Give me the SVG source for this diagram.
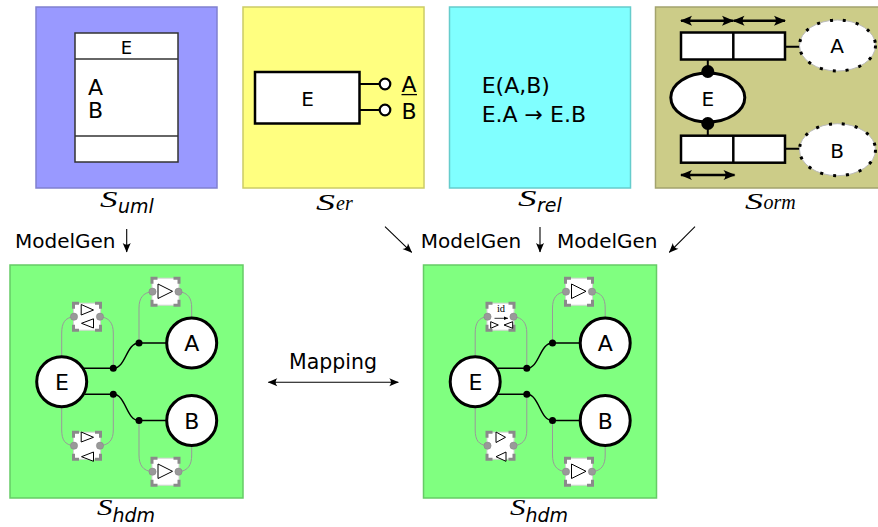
<svg xmlns="http://www.w3.org/2000/svg" width="878" height="527" viewBox="0 0 878 527">
<style>
.sans{font-family:"DejaVu Sans","Liberation Sans",sans-serif;fill:#000}
.ser{font-family:"Liberation Serif","DejaVu Serif",serif;font-style:italic;fill:#000}
.sub{font-family:"DejaVu Sans","Liberation Sans",sans-serif;font-style:italic;fill:#000}
.hc{fill:#fff;stroke:#000;stroke-width:3}
.gl{fill:none;stroke:#999;stroke-width:1}
.bl{fill:none;stroke:#000;stroke-width:1.5}
.tri{fill:#fff;stroke:#000;stroke-width:1}
.conn{fill:none;stroke:#000;stroke-width:1.1}
.thick{fill:none;stroke:#000;stroke-width:2}
.arr{fill:none;stroke:#000;stroke-width:2.4}
.wbox{fill:#fff;stroke:#000;stroke-width:2.5}
</style>
<defs>
<marker id="ah" viewBox="-10 -5 11 10" refX="0" refY="0" markerWidth="11" markerHeight="10" orient="auto-start-reverse" markerUnits="userSpaceOnUse">
<path d="M0.5,0 L-9,-4 Q-5.5,0 -9,4 Z" fill="#000"/>
</marker>
<marker id="ahb" viewBox="-12 -6 13 12" refX="0" refY="0" markerWidth="13" markerHeight="12" orient="auto-start-reverse" markerUnits="userSpaceOnUse">
<path d="M1,0 L-11,-5 Q-7,0 -11,5 Z" fill="#000"/>
</marker>
<marker id="ahs" viewBox="-5 -3 6 6" refX="0" refY="0" markerWidth="6" markerHeight="6" orient="auto" markerUnits="userSpaceOnUse">
<path d="M0,0 L-4,-1.8 L-4,1.8 Z" fill="#000"/>
</marker>
<g id="frame">
<rect x="-13.5" y="-13.5" width="27" height="27" fill="#fff" stroke="#d4d4d4" stroke-width="1"/>
<path d="M-13.5,-8 V-13.5 H-8 M8,-13.5 H13.5 V-8 M13.5,8 V13.5 H8 M-8,13.5 H-13.5 V8" fill="none" stroke="#8a8a8a" stroke-width="3"/>
<circle cx="-13" cy="0" r="3.6" fill="#999" stroke="#888" stroke-width="0.6"/>
<circle cx="13" cy="0" r="3.6" fill="#999" stroke="#888" stroke-width="0.6"/>
</g>
</defs>

<!-- top row schemas -->
<g id="uml">
<rect x="36" y="7" width="181" height="181" fill="#9999ff" stroke="#8080d0" stroke-width="1.5"/>
<rect x="75" y="33" width="103" height="129" fill="#fff" stroke="#333" stroke-width="1.5"/>
<line x1="75" y1="59" x2="178" y2="59" stroke="#333" stroke-width="1.5"/>
<line x1="75" y1="136" x2="178" y2="136" stroke="#333" stroke-width="1.5"/>
<text class="sans" x="126.5" y="54" text-anchor="middle" font-size="18">E</text>
<text class="sans" x="88" y="95" font-size="22">A</text>
<text class="sans" x="88" y="118.3" font-size="22">B</text>
</g>
<g id="er">
<rect x="243" y="7" width="181" height="181" fill="#ffff80" stroke="#cccc66" stroke-width="1.5"/>
<rect class="wbox" x="255" y="72" width="104.5" height="51.5"/>
<text class="sans" x="307.5" y="106" text-anchor="middle" font-size="20">E</text>
<path class="thick" d="M359.5,84 H379.5 M359.5,110 H379.5"/>
<circle cx="385" cy="84" r="5.3" fill="#fff" stroke="#000" stroke-width="2.2"/>
<circle cx="385" cy="110" r="5.3" fill="#fff" stroke="#000" stroke-width="2.2"/>
<text class="sans" x="401.5" y="91.7" font-size="22">A</text>
<line x1="401.5" y1="94.6" x2="417" y2="94.6" stroke="#000" stroke-width="1.3"/>
<text class="sans" x="401.5" y="119.3" font-size="22">B</text>
</g>
<g id="rel">
<rect x="449.5" y="7" width="181" height="181" fill="#80ffff" stroke="#66cccc" stroke-width="1.5"/>
<text class="sans" x="481.7" y="92.7" font-size="22">E(A,B)</text>
<text class="sans" x="481.7" y="121.7" font-size="22">E.A → E.B</text>
</g>
<g id="orm">
<rect x="655.5" y="7" width="230" height="181" fill="#cccc88" stroke="#a3a36d" stroke-width="1.5"/>
<line class="arr" x1="681" y1="20.7" x2="733" y2="20.7" marker-start="url(#ahb)" marker-end="url(#ahb)"/>
<line class="arr" x1="733.5" y1="20.7" x2="785" y2="20.7" marker-start="url(#ahb)" marker-end="url(#ahb)"/>
<line class="arr" x1="681" y1="175" x2="734.5" y2="175" marker-start="url(#ahb)" marker-end="url(#ahb)"/>
<rect class="wbox" x="681" y="32.5" width="104" height="27"/>
<line x1="733.3" y1="32.5" x2="733.3" y2="59.5" stroke="#000" stroke-width="2.5"/>
<rect class="wbox" x="681" y="135.7" width="104" height="27"/>
<line x1="733.3" y1="135.7" x2="733.3" y2="162.7" stroke="#000" stroke-width="2.5"/>
<path class="thick" d="M707.8,59.5 V72 M707.8,123 V135.7 M785,46.7 H800 M785,148.8 H800"/>
<ellipse cx="707.8" cy="97.5" rx="37" ry="24.5" fill="#fff" stroke="#000" stroke-width="3"/>
<circle cx="707.8" cy="71.5" r="6.5" fill="#000"/>
<circle cx="707.8" cy="123.5" r="6.5" fill="#000"/>
<text class="sans" x="707.8" y="106" text-anchor="middle" font-size="20">E</text>
<ellipse cx="837.5" cy="45.5" rx="38" ry="25.5" fill="#fff" stroke="#bbb" stroke-width="1"/>
<ellipse cx="837.5" cy="45.5" rx="38" ry="25.5" fill="none" stroke="#000" stroke-width="3" stroke-dasharray="3 10"/>
<text class="sans" x="837" y="53.3" text-anchor="middle" font-size="20">A</text>
<ellipse cx="837.5" cy="149.7" rx="38" ry="26" fill="#fff" stroke="#bbb" stroke-width="1"/>
<ellipse cx="837.5" cy="149.7" rx="38" ry="26" fill="none" stroke="#000" stroke-width="3" stroke-dasharray="3 10"/>
<text class="sans" x="837" y="158.3" text-anchor="middle" font-size="20">B</text>
</g>

<!-- schema labels -->
<g id="labels">
<text class="ser" x="100" y="206.5" font-size="23" textLength="17.5" lengthAdjust="spacingAndGlyphs">S</text><text class="sub" x="118" y="213" font-size="19">uml</text>
<text class="ser" x="316" y="209.5" font-size="23" textLength="19" lengthAdjust="spacingAndGlyphs">S</text><text class="ser" x="336" y="209.5" font-size="20">er</text>
<text class="ser" x="518" y="206" font-size="23" textLength="18.5" lengthAdjust="spacingAndGlyphs">S</text><text class="sub" x="537" y="212" font-size="19">rel</text>
<text class="ser" x="745" y="209" font-size="23" textLength="18" lengthAdjust="spacingAndGlyphs">S</text><text class="ser" x="763.5" y="209" font-size="20">orm</text>
<text class="ser" x="97" y="515" font-size="23" textLength="15.5" lengthAdjust="spacingAndGlyphs">S</text><text class="sub" x="112.5" y="521.5" font-size="19">hdm</text>
<text class="ser" x="510" y="515" font-size="23" textLength="15.5" lengthAdjust="spacingAndGlyphs">S</text><text class="sub" x="525.5" y="521.5" font-size="19">hdm</text>
</g>

<!-- HDM panels -->
<g id="hdm1">
<rect x="10" y="265" width="233" height="233" fill="#80ff80" stroke="#66cc66" stroke-width="1.5"/>
<g id="hdm1-links">
<path class="gl" d="M74,316.7 C65,317.5 61.7,323 61.7,333 V357 M100,316.7 C109,317.5 113.3,323 113.3,333 V368.3"/>
<path class="gl" d="M61.7,406.7 V430 C61.7,440 65,445 74,445.7 M113.3,394.3 V430 C113.3,440 109,445 100,445.7"/>
<path class="gl" d="M152.5,291.7 C143,292.5 139,298 139,308 V343 M178.5,291.7 C188,292.5 191.7,298 191.7,308 V318"/>
<path class="gl" d="M139,420.5 V455 C139,465 143,471 152.5,471.7 M191.7,445.5 V455 C191.7,465 188,471 178.5,471.7"/>
<path class="bl" d="M84,368.3 H113.3 C126,368.3 126,343 139,343 H167"/>
<path class="bl" d="M84.4,394.3 H113.3 C126,394.3 126,420.5 139,420.5 H167"/>
<circle cx="113.3" cy="368.3" r="3.5"/><circle cx="113.3" cy="394.3" r="3.5"/>
<circle cx="139" cy="343" r="3.5"/><circle cx="139" cy="420.5" r="3.5"/>
</g>
<g id="hdm1-c1"><use href="#frame" x="87" y="316.7"/>
<path class="tri" d="M81.2,304.5 L93.5,310 L81.2,315 Z M81.5,323.3 L93.5,318.8 L93.5,328 Z"/></g>
<g id="hdm1-c2"><use href="#frame" x="87" y="445.7"/>
<path class="tri" d="M81.2,432 L93.5,437.3 L81.2,442 Z M81.5,456.7 L93.5,452 L93.5,461.3 Z"/></g>
<g id="hdm1-c3"><use href="#frame" x="165.5" y="291.7"/>
<path class="tri" d="M158,284 L172.5,291.3 L158,298.5 Z"/></g>
<g id="hdm1-c4"><use href="#frame" x="165.5" y="471.7"/>
<path class="tri" d="M158,464 L172.5,471.3 L158,478.5 Z"/></g>
<g id="hdm1-E"><circle class="hc" cx="61.7" cy="381.7" r="25"/><text class="sans" x="62" y="390" text-anchor="middle" font-size="22">E</text></g>
<g id="hdm1-A"><circle class="hc" cx="191.7" cy="343" r="25"/><text class="sans" x="191.7" y="351.3" text-anchor="middle" font-size="22">A</text></g>
<g id="hdm1-B"><circle class="hc" cx="191.7" cy="420.5" r="25"/><text class="sans" x="191.7" y="428.5" text-anchor="middle" font-size="22">B</text></g>
</g>

<g id="hdm2">
<rect x="423.5" y="265" width="233" height="233" fill="#80ff80" stroke="#66cc66" stroke-width="1.5"/>
<g transform="translate(413.5,0)">
<g id="hdm2-links">
<path class="gl" d="M74,316.7 C65,317.5 61.7,323 61.7,333 V357 M100,316.7 C109,317.5 113.3,323 113.3,333 V368.3"/>
<path class="gl" d="M61.7,406.7 V430 C61.7,440 65,445 74,445.7 M113.3,394.3 V430 C113.3,440 109,445 100,445.7"/>
<path class="gl" d="M152.5,291.7 C143,292.5 139,298 139,308 V343 M178.5,291.7 C188,292.5 191.7,298 191.7,308 V318"/>
<path class="gl" d="M139,420.5 V455 C139,465 143,471 152.5,471.7 M191.7,445.5 V455 C191.7,465 188,471 178.5,471.7"/>
<path class="bl" d="M84,368.3 H113.3 C126,368.3 126,343 139,343 H167"/>
<path class="bl" d="M84.4,394.3 H113.3 C126,394.3 126,420.5 139,420.5 H167"/>
<circle cx="113.3" cy="368.3" r="3.5"/><circle cx="113.3" cy="394.3" r="3.5"/>
<circle cx="139" cy="343" r="3.5"/><circle cx="139" cy="420.5" r="3.5"/>
</g>
<g id="hdm2-c1"><use href="#frame" x="87" y="316.7"/>
<path class="tri" d="M77.2,321.7 L84.8,325 L77.2,328.3 Z M90.5,325 L99.2,321.7 L99.2,328.3 Z"/>
<text x="87.5" y="312.3" text-anchor="middle" font-family="Liberation Serif, serif" font-size="10.5">id</text>
<line x1="81" y1="318.3" x2="94.5" y2="318.3" stroke="#000" stroke-width="0.8" marker-end="url(#ahs)"/></g>
<g id="hdm2-c2"><use href="#frame" x="87" y="445.7"/>
<path class="tri" d="M82.5,432 L92,437.3 L82.5,442.5 Z M82.5,456.7 L92.5,452 L92.5,461.3 Z"/></g>
<g id="hdm2-c3"><use href="#frame" x="165.5" y="291.7"/>
<path class="tri" d="M158,284 L172.5,291.3 L158,298.5 Z"/></g>
<g id="hdm2-c4"><use href="#frame" x="165.5" y="471.7"/>
<path class="tri" d="M158,464 L172.5,471.3 L158,478.5 Z"/></g>
<g id="hdm2-E"><circle class="hc" cx="61.7" cy="381.7" r="25"/><text class="sans" x="62" y="390" text-anchor="middle" font-size="22">E</text></g>
<g id="hdm2-A"><circle class="hc" cx="191.7" cy="343" r="25"/><text class="sans" x="191.7" y="351.3" text-anchor="middle" font-size="22">A</text></g>
<g id="hdm2-B"><circle class="hc" cx="191.7" cy="420.5" r="25"/><text class="sans" x="191.7" y="428.5" text-anchor="middle" font-size="22">B</text></g>
</g>
</g>

<!-- connectors -->
<g id="connectors">
<line class="conn" x1="126.7" y1="229" x2="126.7" y2="252" marker-end="url(#ah)"/>
<line class="conn" x1="385" y1="226.7" x2="411.7" y2="252.3" marker-end="url(#ah)"/>
<line class="conn" x1="540" y1="227" x2="540" y2="252" marker-end="url(#ah)"/>
<line class="conn" x1="695" y1="226.7" x2="669.3" y2="252.3" marker-end="url(#ah)"/>
<line class="conn" x1="268.3" y1="382.3" x2="398.3" y2="382.3" marker-start="url(#ah)" marker-end="url(#ah)"/>
<text class="sans" x="15" y="247.5" font-size="20">ModelGen</text>
<text class="sans" x="420.7" y="247.5" font-size="20">ModelGen</text>
<text class="sans" x="557" y="247.5" font-size="20">ModelGen</text>
<text class="sans" x="289" y="369" font-size="20.5">Mapping</text>
</g>
</svg>
